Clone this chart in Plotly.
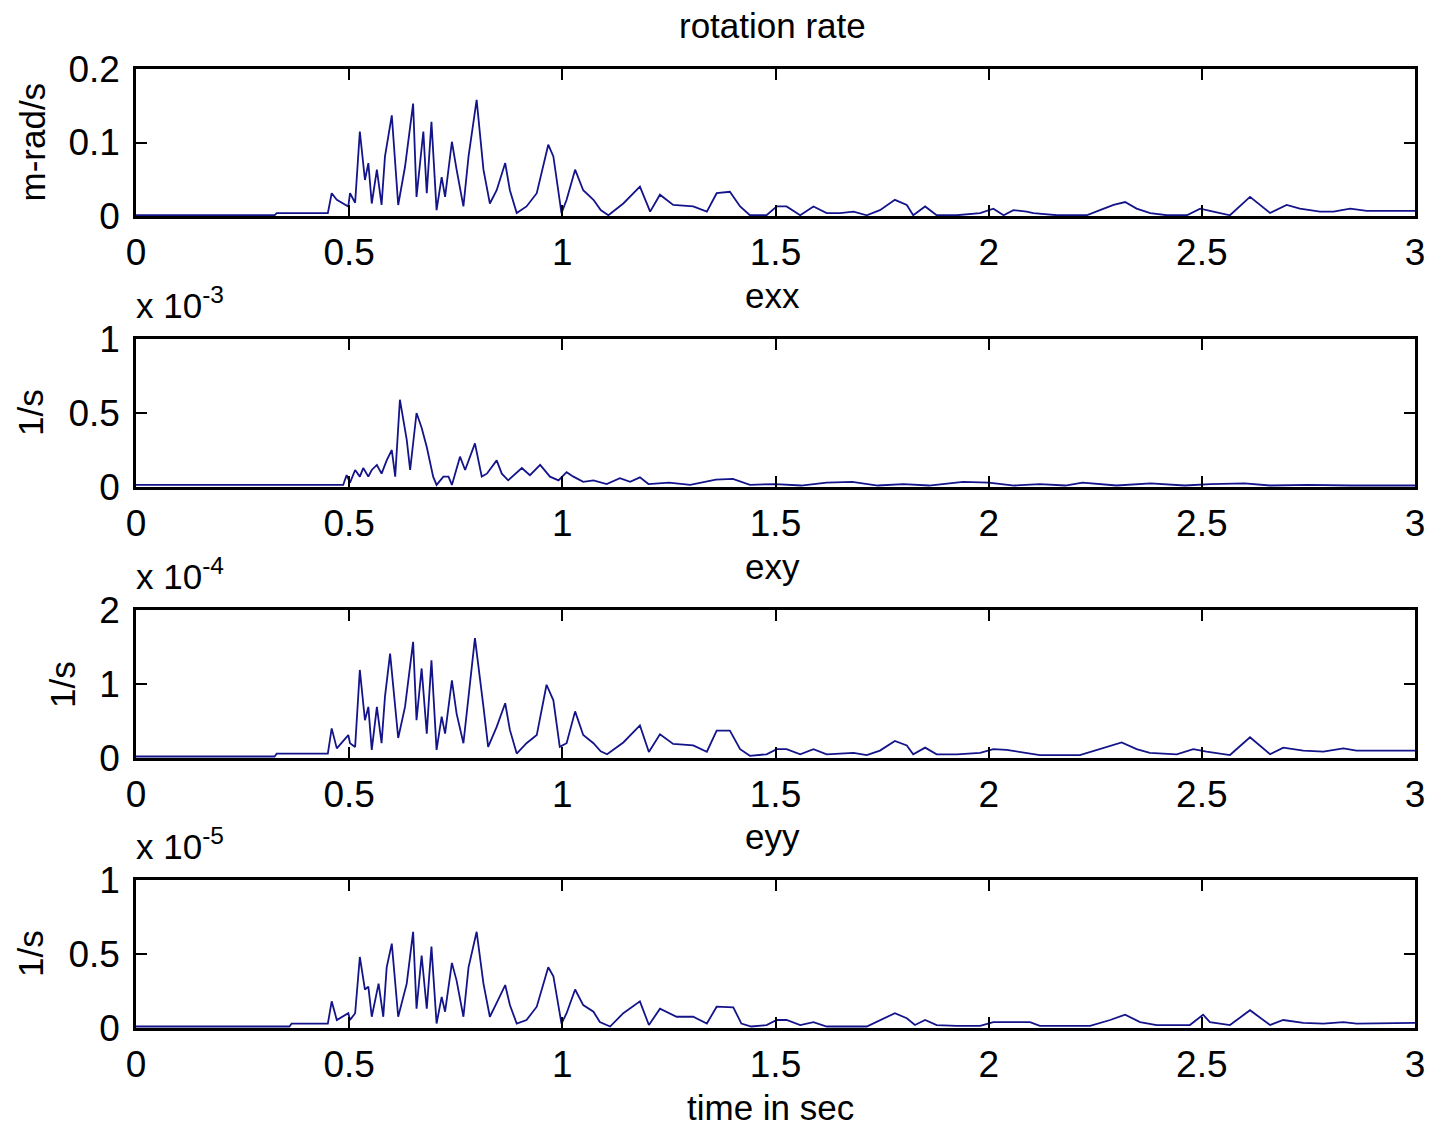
import plotly.graph_objects as go

# ---- rotation rate (m-rad/s) ----
rot_t = [0.0, 0.325, 0.33, 0.45, 0.459, 0.471, 0.498, 0.502, 0.514, 0.525, 0.537, 0.545,
         0.553, 0.565, 0.576, 0.584, 0.600, 0.615, 0.631, 0.650, 0.658, 0.674, 0.682, 0.693,
         0.705, 0.717, 0.725, 0.741, 0.752, 0.768, 0.780, 0.799, 0.815, 0.830, 0.846, 0.866,
         0.877, 0.893, 0.916, 0.940, 0.967, 0.979, 0.998, 1.010, 1.030, 1.049, 1.073, 1.090,
         1.108, 1.143, 1.182, 1.206, 1.229, 1.260, 1.307, 1.339, 1.362, 1.393, 1.417, 1.440,
         1.479, 1.503, 1.526, 1.558, 1.589, 1.620, 1.651, 1.683, 1.714, 1.745, 1.780, 1.808,
         1.823, 1.851, 1.878, 1.925, 1.980, 2.011, 2.035, 2.058, 2.089, 2.105, 2.160, 2.230,
         2.261, 2.293, 2.320, 2.347, 2.379, 2.418, 2.465, 2.496, 2.527, 2.566, 2.613, 2.660,
         2.699, 2.730, 2.777, 2.809, 2.848, 2.887, 3.0]
rot_v = [0.001, 0.001, 0.004, 0.004, 0.031, 0.022, 0.013, 0.031, 0.018, 0.115, 0.049, 0.072,
         0.017, 0.063, 0.015, 0.081, 0.137, 0.015, 0.067, 0.153, 0.026, 0.115, 0.031, 0.128,
         0.008, 0.053, 0.026, 0.101, 0.063, 0.013, 0.081, 0.158, 0.063, 0.017, 0.035, 0.072,
         0.035, 0.004, 0.013, 0.031, 0.097, 0.081, 0.004, 0.022, 0.063, 0.035, 0.022, 0.008,
         0.001, 0.017, 0.040, 0.006, 0.029, 0.015, 0.013, 0.006, 0.031, 0.033, 0.013, 0.001,
         0.001, 0.013, 0.013, 0.001, 0.013, 0.004, 0.004, 0.006, 0.001, 0.008, 0.022, 0.015,
         0.001, 0.013, 0.001, 0.001, 0.004, 0.010, 0.001, 0.008, 0.006, 0.004, 0.001, 0.001,
         0.008, 0.015, 0.019, 0.010, 0.004, 0.001, 0.001, 0.010, 0.006, 0.001, 0.026, 0.004,
         0.015, 0.010, 0.006, 0.006, 0.010, 0.007, 0.007]

# ---- exx (1/s, in units of 1e-3) ----
exx_t = [0.0, 0.486, 0.494, 0.502, 0.514, 0.525, 0.533, 0.545, 0.553, 0.565, 0.576, 0.588,
         0.600, 0.608, 0.619, 0.635, 0.643, 0.658, 0.670, 0.682, 0.697, 0.705, 0.721, 0.733,
         0.741, 0.760, 0.772, 0.795, 0.811, 0.823, 0.846, 0.858, 0.873, 0.905, 0.924, 0.948,
         0.971, 0.991, 1.010, 1.026, 1.049, 1.073, 1.104, 1.135, 1.159, 1.182, 1.202, 1.25,
         1.30, 1.36, 1.40, 1.44, 1.50, 1.56, 1.62, 1.68, 1.74, 1.80, 1.86, 1.94, 2.0, 2.06,
         2.12, 2.18, 2.22, 2.30, 2.38, 2.46, 2.52, 2.60, 2.66, 2.75, 2.85, 3.0]
exx_v = [0.014, 0.014, 0.08, 0.03, 0.115, 0.07, 0.128, 0.07, 0.115, 0.149, 0.09, 0.18,
         0.25, 0.07, 0.59, 0.32, 0.115, 0.50, 0.40, 0.27, 0.07, 0.014, 0.07, 0.07,
         0.014, 0.205, 0.115, 0.295, 0.07, 0.09, 0.18, 0.09, 0.045, 0.128, 0.08, 0.149,
         0.07, 0.045, 0.10, 0.07, 0.035, 0.045, 0.02, 0.06, 0.035, 0.065, 0.02, 0.03,
         0.015, 0.05, 0.055, 0.015, 0.02, 0.01, 0.03, 0.035, 0.01, 0.02, 0.01, 0.035, 0.03, 0.01,
         0.02, 0.01, 0.03, 0.01, 0.025, 0.01, 0.02, 0.025, 0.01, 0.015, 0.01, 0.01]

# ---- exy (1/s, in units of 1e-4) ----
exy_t = [0.0, 0.325, 0.33, 0.45, 0.459, 0.471, 0.498, 0.502, 0.514, 0.525, 0.537, 0.545,
         0.553, 0.565, 0.576, 0.584, 0.596, 0.615, 0.631, 0.650, 0.658, 0.670, 0.682, 0.693,
         0.705, 0.717, 0.725, 0.741, 0.752, 0.768, 0.780, 0.795, 0.815, 0.826, 0.846, 0.866,
         0.877, 0.893, 0.916, 0.940, 0.963, 0.979, 0.994, 1.010, 1.030, 1.049, 1.073, 1.090,
         1.105, 1.143, 1.182, 1.203, 1.229, 1.260, 1.307, 1.339, 1.362, 1.393, 1.417, 1.440,
         1.479, 1.503, 1.526, 1.558, 1.589, 1.620, 1.651, 1.683, 1.714, 1.745, 1.780, 1.808,
         1.823, 1.851, 1.878, 1.925, 1.980, 2.011, 2.042, 2.081, 2.120, 2.214, 2.261, 2.312,
         2.347, 2.378, 2.441, 2.480, 2.511, 2.566, 2.613, 2.660, 2.691, 2.738, 2.785, 2.832,
         2.863, 3.0]
exy_v = [0.02, 0.02, 0.06, 0.06, 0.40, 0.13, 0.31, 0.20, 0.15, 1.19, 0.51, 0.69,
         0.11, 0.69, 0.20, 0.83, 1.41, 0.27, 0.69, 1.57, 0.51, 1.21, 0.33, 1.32,
         0.11, 0.56, 0.33, 1.05, 0.60, 0.20, 0.83, 1.62, 0.69, 0.15, 0.42, 0.74,
         0.38, 0.06, 0.20, 0.31, 0.99, 0.78, 0.15, 0.20, 0.63, 0.31, 0.20, 0.09,
         0.05, 0.21, 0.44, 0.08, 0.32, 0.19, 0.17, 0.085, 0.37, 0.37, 0.12, 0.03,
         0.05, 0.12, 0.12, 0.05, 0.12, 0.05, 0.06, 0.07, 0.04, 0.10, 0.23, 0.17,
         0.05, 0.14, 0.05, 0.05, 0.07, 0.12, 0.11, 0.07, 0.04, 0.04, 0.12, 0.21,
         0.12, 0.07, 0.05, 0.12, 0.085, 0.04, 0.28, 0.05, 0.14, 0.10, 0.085, 0.13,
         0.10, 0.10]

# ---- eyy (1/s, in units of 1e-5) ----
eyy_t = [0.0, 0.36, 0.365, 0.45, 0.459, 0.471, 0.498, 0.502, 0.514, 0.525, 0.537, 0.545,
         0.553, 0.569, 0.580, 0.588, 0.600, 0.615, 0.635, 0.650, 0.658, 0.670, 0.682, 0.693,
         0.705, 0.717, 0.725, 0.741, 0.752, 0.768, 0.780, 0.799, 0.815, 0.830, 0.846, 0.866,
         0.877, 0.893, 0.916, 0.940, 0.967, 0.979, 0.998, 1.010, 1.030, 1.049, 1.073, 1.088,
         1.112, 1.143, 1.182, 1.203, 1.229, 1.268, 1.307, 1.339, 1.362, 1.401, 1.420, 1.443,
         1.479, 1.503, 1.526, 1.558, 1.589, 1.620, 1.714, 1.780, 1.808, 1.827, 1.851, 1.878,
         1.925, 1.980, 2.011, 2.097, 2.120, 2.238, 2.285, 2.320, 2.355, 2.394, 2.472, 2.503,
         2.519, 2.550, 2.566, 2.613, 2.660, 2.691, 2.738, 2.785, 2.832, 2.863, 3.0]
eyy_v = [0.01, 0.01, 0.03, 0.03, 0.18, 0.054, 0.10, 0.054, 0.10, 0.48, 0.26, 0.28,
         0.076, 0.30, 0.076, 0.41, 0.57, 0.076, 0.30, 0.65, 0.13, 0.49, 0.13, 0.55,
         0.03, 0.21, 0.11, 0.44, 0.32, 0.076, 0.41, 0.65, 0.30, 0.076, 0.17, 0.29,
         0.155, 0.03, 0.054, 0.144, 0.41, 0.35, 0.03, 0.10, 0.26, 0.155, 0.11, 0.04,
         0.01, 0.10, 0.18, 0.02, 0.13, 0.076, 0.076, 0.03, 0.144, 0.14, 0.03, 0.01,
         0.02, 0.054, 0.054, 0.02, 0.04, 0.01, 0.01, 0.10, 0.066, 0.02, 0.054, 0.02,
         0.015, 0.015, 0.04, 0.04, 0.015, 0.015, 0.054, 0.09, 0.04, 0.02, 0.02, 0.09,
         0.04, 0.03, 0.02, 0.12, 0.02, 0.054, 0.035, 0.03, 0.04, 0.03, 0.035]

x_ticks = [0, 0.5, 1, 1.5, 2, 2.5, 3]
x_tick_text = ["0", "0.5", "1", "1.5", "2", "2.5", "3"]

panels = [
    dict(t=rot_t, v=rot_v, title="rotation rate", ylabel="m-rad/s", ymax=0.2,
         yticks=[0, 0.1, 0.2], ytext=["0", "0.1", "0.2"], exp=None),
    dict(t=exx_t, v=exx_v, title="exx", ylabel="1/s", ymax=1,
         yticks=[0, 0.5, 1], ytext=["0", "0.5", "1"], exp="-3"),
    dict(t=exy_t, v=exy_v, title="exy", ylabel="1/s", ymax=2,
         yticks=[0, 1, 2], ytext=["0", "1", "2"], exp="-4"),
    dict(t=eyy_t, v=eyy_v, title="eyy", ylabel="1/s", ymax=1,
         yticks=[0, 0.5, 1], ytext=["0", "0.5", "1"], exp="-5"),
]

W, H = 1431, 1128
X_LEFT, X_RIGHT = 136, 1415
PANEL_PX = [(69, 216), (339, 487), (610, 758), (880, 1028)]  # top, bottom
YLABEL_X = [32, 30, 62, 30]
LINE_COLOR = "#14148a"
FONT = "Liberation Sans, Arial, sans-serif"
TICK_SIZE = 37
TEXT_SIZE = 35


def py(px):
    """Pixel row (from top) to paper y."""
    return 1 - px / H


fig = go.Figure()
annotations = []
layout = dict(
    width=W, height=H,
    margin=dict(l=0, r=0, t=0, b=0, autoexpand=False),
    paper_bgcolor="white", plot_bgcolor="white",
    showlegend=False,
    font=dict(family=FONT, color="black", size=TICK_SIZE),
)

for i, p in enumerate(panels):
    n = "" if i == 0 else str(i + 1)
    top, bot = PANEL_PX[i]
    fig.add_trace(go.Scatter(
        x=p["t"], y=p["v"], mode="lines",
        line=dict(color=LINE_COLOR, width=1.8),
        xaxis="x" + n, yaxis="y" + n, hoverinfo="skip",
    ))
    axis_common = dict(
        showline=True, linecolor="black", linewidth=2.5, mirror="ticks",
        ticks="inside", ticklen=11, tickwidth=2, tickcolor="black",
        showgrid=False, zeroline=False, automargin=False,
        tickfont=dict(family=FONT, size=TICK_SIZE, color="black"),
    )
    layout["xaxis" + n] = dict(
        axis_common, domain=[X_LEFT / W, X_RIGHT / W], range=[0, 3],
        tickvals=x_ticks, ticktext=x_tick_text, anchor="y" + n,
        ticklabelstandoff=2,
    )
    layout["yaxis" + n] = dict(
        axis_common, domain=[py(bot), py(top)], range=[0, p["ymax"]],
        tickvals=p["yticks"], ticktext=p["ytext"], anchor="x" + n,
        ticklabelstandoff=6,
    )
    # panel title
    annotations.append(dict(
        text=p["title"], x=772 / W, y=py(top - 44), xref="paper", yref="paper",
        xanchor="center", yanchor="middle", showarrow=False,
        font=dict(family=FONT, size=TEXT_SIZE, color="black"),
    ))
    # y-axis label
    annotations.append(dict(
        text=p["ylabel"], x=YLABEL_X[i] / W, y=py((top + bot) / 2),
        xref="paper", yref="paper", xanchor="center", yanchor="middle",
        textangle=-90, showarrow=False,
        font=dict(family=FONT, size=TEXT_SIZE, color="black"),
    ))
    # exponent multiplier
    if p["exp"]:
        annotations.append(dict(
            text="x 10<sup>" + p["exp"] + "</sup>", x=134 / W, y=py(top - 36),
            xref="paper", yref="paper", xanchor="left", yanchor="middle",
            showarrow=False,
            font=dict(family=FONT, size=TEXT_SIZE, color="black"),
        ))

annotations.append(dict(
    text="time in sec", x=770 / W, y=py(1107), xref="paper", yref="paper",
    xanchor="center", yanchor="middle", showarrow=False, borderpad=0,
    font=dict(family=FONT, size=TEXT_SIZE, color="black"),
))

layout["annotations"] = annotations
fig.update_layout(**layout)
fig.write_html("out.html")
